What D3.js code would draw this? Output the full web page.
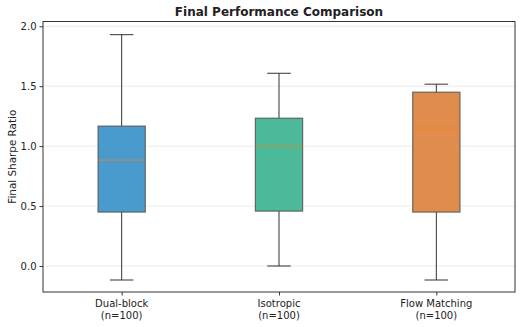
<!DOCTYPE html>
<html>
<head>
<meta charset="utf-8">
<script src="https://cdn.jsdelivr.net/npm/d3@7"></script>
<style>
  body { margin: 0; background: #fff; }
  text { font-family: "DejaVu Sans", sans-serif; fill: #222; }
</style>
</head>
<body>
<div id="chart"></div>
<script>
var categories = ["Dual-block", "Isotropic", "Flow Matching"];
var counts = [100, 100, 100];
var whiskLow = [-0.117, 0.0, -0.117];
var q1 = [0.45, 0.458, 0.45];
var medians = [0.883, 1.0, 1.15];
var q3 = [1.167, 1.233, 1.45];
var whiskHigh = [1.93, 1.608, 1.517];
var yTicks = [0.0, 0.5, 1.0, 1.5, 2.0];
var boxColors = ["#4a9bcd", "#4bb99a", "#e08c4c"];

var width = 530, height = 327;
var margin = {left: 43, right: 15, top: 21.5, bottom: 35};

var svg = d3.select("#chart").append("svg")
    .attr("width", width)
    .attr("height", height);

var x = d3.scaleLinear()
    .domain([0.5, categories.length + 0.5])
    .range([margin.left, width - margin.right]);

var y = d3.scaleLinear()
    .domain([-0.217, 2.04])
    .range([height - margin.bottom, margin.top]);

var boxW = x(1.3) - x(1);
var capW = boxW / 2;

// grid
svg.append("g").selectAll("line")
    .data(yTicks)
    .enter().append("line")
    .attr("x1", margin.left).attr("x2", width - margin.right)
    .attr("y1", function(d){ return y(d); })
    .attr("y2", function(d){ return y(d); })
    .attr("stroke", "#e6e6e6")
    .attr("stroke-width", 0.8);

var data = categories.map(function(c, i){
  return {name: c, n: counts[i], lo: whiskLow[i], q1: q1[i], med: medians[i],
          q3: q3[i], hi: whiskHigh[i], color: boxColors[i], pos: i + 1};
});

var g = svg.selectAll(".box").data(data).enter().append("g").attr("class", "box");

// whiskers
g.append("line")
    .attr("x1", function(d){ return x(d.pos); }).attr("x2", function(d){ return x(d.pos); })
    .attr("y1", function(d){ return y(d.q3); }).attr("y2", function(d){ return y(d.hi); })
    .attr("stroke", "#333").attr("stroke-width", 1);
g.append("line")
    .attr("x1", function(d){ return x(d.pos); }).attr("x2", function(d){ return x(d.pos); })
    .attr("y1", function(d){ return y(d.q1); }).attr("y2", function(d){ return y(d.lo); })
    .attr("stroke", "#333").attr("stroke-width", 1);
// caps
["hi", "lo"].forEach(function(k){
  g.append("line")
      .attr("x1", function(d){ return x(d.pos) - capW / 2; })
      .attr("x2", function(d){ return x(d.pos) + capW / 2; })
      .attr("y1", function(d){ return y(d[k]); })
      .attr("y2", function(d){ return y(d[k]); })
      .attr("stroke", "#333").attr("stroke-width", 1);
});

// boxes
g.append("rect")
    .attr("x", function(d){ return x(d.pos) - boxW / 2; })
    .attr("width", boxW)
    .attr("y", function(d){ return y(d.q3); })
    .attr("height", function(d){ return y(d.q1) - y(d.q3); })
    .attr("fill", function(d){ return d.color; })
    .attr("stroke", "#555")
    .attr("stroke-opacity", 0.85)
    .attr("stroke-width", 1.2);

// medians
g.append("line")
    .attr("x1", function(d){ return x(d.pos) - boxW / 2; })
    .attr("x2", function(d){ return x(d.pos) + boxW / 2; })
    .attr("y1", function(d){ return y(d.med); })
    .attr("y2", function(d){ return y(d.med); })
    .attr("stroke", "#ff7f0e")
    .attr("stroke-opacity", 0.6)
    .attr("stroke-width", 1.3);

// axes
var yAxis = d3.axisLeft(y).tickValues(yTicks).tickFormat(d3.format(".1f")).tickSize(3.5).tickPadding(3);
var ya = svg.append("g")
    .attr("transform", "translate(" + margin.left + ",0)")
    .call(yAxis);
ya.select(".domain").remove();
ya.selectAll("text").style("font-size", "10px").attr("fill", "#222");
ya.selectAll("line").attr("stroke", "#333");

var xAxis = d3.axisBottom(x).tickValues([1, 2, 3]).tickFormat("").tickSize(3.5);
var xa = svg.append("g")
    .attr("transform", "translate(0," + (height - margin.bottom) + ")")
    .call(xAxis);
xa.select(".domain").remove();
xa.selectAll("line").attr("stroke", "#333");

data.forEach(function(d){
  var t = svg.append("text")
      .attr("x", x(d.pos))
      .attr("y", height - margin.bottom + 15)
      .attr("text-anchor", "middle")
      .style("font-size", "10px");
  t.append("tspan").attr("x", x(d.pos)).text(d.name);
  t.append("tspan").attr("x", x(d.pos)).attr("dy", 12).text("(n=" + d.n + ")");
});

// frame
svg.append("rect")
    .attr("x", margin.left).attr("y", margin.top)
    .attr("width", width - margin.left - margin.right)
    .attr("height", height - margin.top - margin.bottom)
    .attr("fill", "none")
    .attr("stroke", "#333")
    .attr("stroke-width", 1);

svg.append("text")
    .attr("x", (margin.left + width - margin.right) / 2)
    .attr("y", 16)
    .attr("text-anchor", "middle")
    .style("font-size", "12px")
    .style("font-weight", "bold")
    .text("Final Performance Comparison");

svg.append("text")
    .attr("transform", "translate(16," + ((margin.top + height - margin.bottom) / 2) + ") rotate(-90)")
    .attr("text-anchor", "middle")
    .style("font-size", "10.4px")
    .text("Final Sharpe Ratio");
</script>
</body>
</html>
